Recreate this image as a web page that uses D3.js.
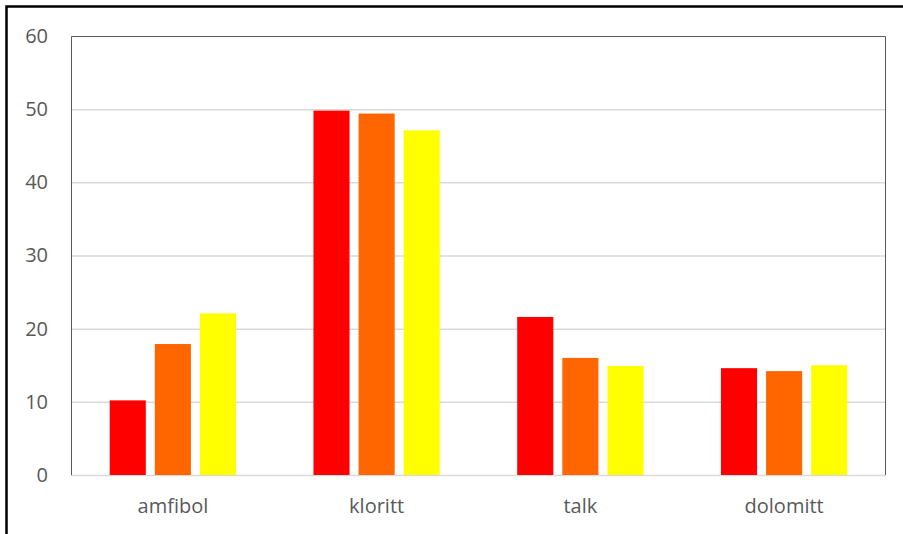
<!DOCTYPE html>
<html>
<head>
<meta charset="utf-8">
<script src="https://cdn.jsdelivr.net/npm/d3@7"></script>
<style>
  body { margin: 0; background: #fff; }
  svg text { font-family: "Open Sans", "Liberation Sans", sans-serif; fill: #595959; }
</style>
</head>
<body>
<svg id="chart" width="903" height="534"></svg>
<script>
// data
const categories = ["amfibol", "kloritt", "talk", "dolomitt"]
const seriesNames = ["s1", "s2", "s3"]
const seriesColors = ["#FF0000", "#FF6600", "#FFFF00"]
const s1Values = [10.2, 49.8, 21.6, 14.6]
const s2Values = [17.9, 49.4, 16.0, 14.2]
const s3Values = [22.1, 47.1, 14.9, 15.0]
const yTicks = [0, 10, 20, 30, 40, 50, 60]

const values = [s1Values, s2Values, s3Values]
const rows = categories.map((c, i) => ({cat: c, vals: values.map(v => v[i])}))

const margin = {top: 36, right: 17, bottom: 59, left: 71}
const width = 903 - margin.left - margin.right
const height = 534 - margin.top - margin.bottom

const svg = d3.select("#chart")

// outer frame (only top and left are in view)
svg.append("path")
   .attr("d", "M6.5,534 V6.5 H903")
   .attr("fill", "none")
   .attr("stroke", "#000")
   .attr("stroke-width", 2.5)

const g = svg.append("g")
   .attr("transform", "translate(" + margin.left + "," + margin.top + ")")

const y = d3.scaleLinear().domain([0, 60]).range([height, 0])

const x0 = d3.scaleBand()
   .domain(categories)
   .range([0, width])
   .paddingInner(0.38)
   .paddingOuter(0.19)

const x1 = d3.scaleBand()
   .domain(seriesNames)
   .range([0, x0.bandwidth()])
   .paddingInner(0.2)

// gridlines
g.append("g")
 .attr("class", "grid")
 .call(d3.axisLeft(y).tickValues(yTicks.filter(t => t < 60)).tickSize(-width).tickFormat(""))
 .call(s => s.select(".domain").remove())
 .call(s => s.selectAll("line").attr("stroke", "#d9d9d9").attr("stroke-width", 1.5))

// plot area border: top, left, right
g.append("path")
 .attr("d", `M0.5,${height} V0.5 H${width - 0.5} V${height}`)
 .attr("fill", "none")
 .attr("stroke", "#595959")
 .attr("stroke-width", 1)

// bars
const groups = g.selectAll("g.cat")
   .data(rows)
   .enter()
   .append("g")
   .attr("class", "cat")
   .attr("transform", d => "translate(" + x0(d.cat) + ",0)")

groups.selectAll("rect")
   .data(d => d.vals.map((v, i) => ({key: seriesNames[i], v: v, color: seriesColors[i]})))
   .enter()
   .append("rect")
   .attr("x", d => x1(d.key))
   .attr("width", x1.bandwidth())
   .attr("y", d => y(d.v))
   .attr("height", d => height - y(d.v))
   .attr("fill", d => d.color)

// y axis labels
const yAxis = g.append("g")
   .call(d3.axisLeft(y).tickValues(yTicks).tickSize(0).tickPadding(23))
yAxis.select(".domain").remove()
yAxis.selectAll("text")
   .style("font-size", "20px")
   .style("fill", "#595959")
   .attr("font-family", null)

// x axis labels
const xAxis = g.append("g")
   .attr("transform", "translate(0," + height + ")")
   .call(d3.axisBottom(x0).tickSize(0).tickPadding(24))
xAxis.select(".domain").remove()
xAxis.selectAll("text")
   .style("font-size", "20px")
   .style("fill", "#595959")
   .attr("font-family", null)
</script>
</body>
</html>
